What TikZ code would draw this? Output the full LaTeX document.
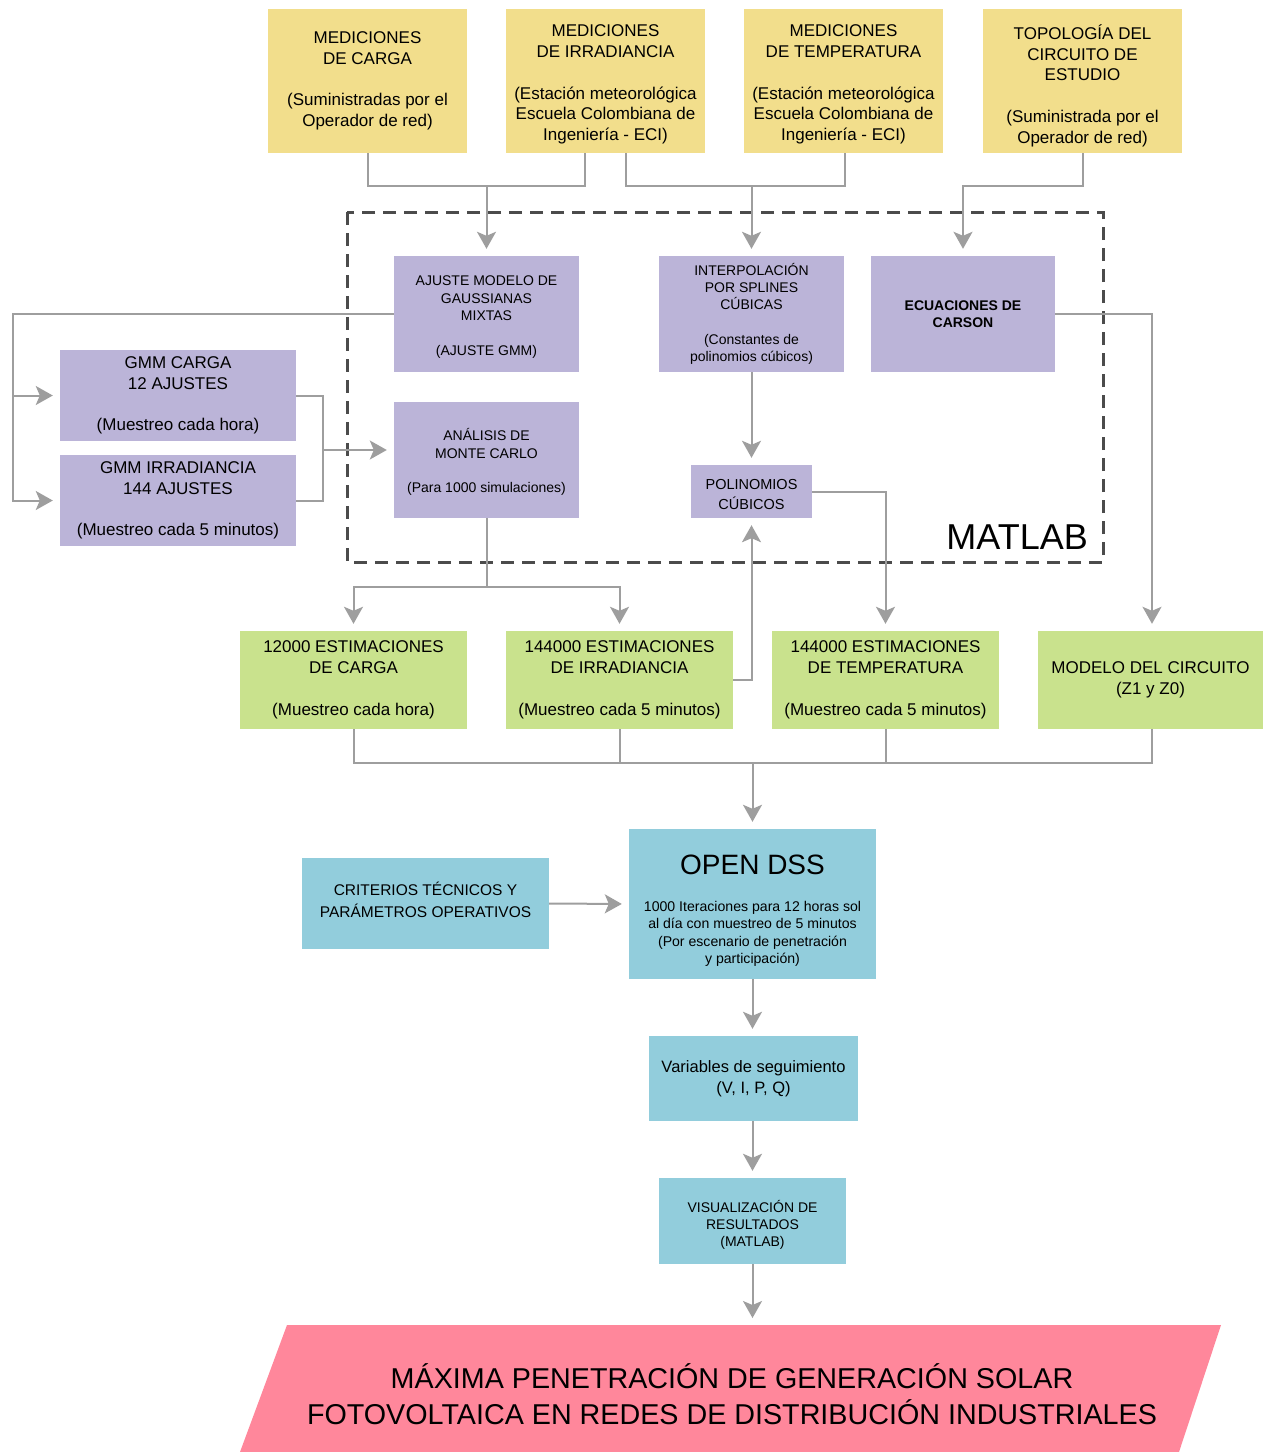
\documentclass[tikz,border=0pt]{standalone}
\usepackage{fontspec}
\setmainfont{Liberation Sans}
\usetikzlibrary{arrows.meta}
\definecolor{cyel}{RGB}{242,222,140}
\definecolor{cpur}{RGB}{187,180,216}
\definecolor{cgrn}{RGB}{201,226,141}
\definecolor{cteal}{RGB}{146,205,220}
\definecolor{cpink}{RGB}{255,135,155}
\definecolor{cline}{RGB}{158,158,158}
\definecolor{cdash}{RGB}{75,75,75}
\newcommand\tstr[1]{\rule{0pt}{#1pt}}
\tikzset{
  box/.style={draw=none, inner sep=0pt, align=center, text=black},
  yel/.style={box, fill=cyel, minimum width=199pt, minimum height=144pt, font=\fontsize{17}{20.8}\selectfont},
  pur/.style={box, fill=cpur, minimum width=185pt, minimum height=116pt, font=\fontsize{14}{17.3}\selectfont},
  purbig/.style={box, fill=cpur, minimum width=236pt, minimum height=91pt, font=\fontsize{17}{21}\selectfont},
  grn/.style={box, fill=cgrn, minimum width=227pt, minimum height=98pt, font=\fontsize{17}{20.8}\selectfont},
  teal/.style={box, fill=cteal},
  conn/.style={draw=cline, line width=2pt},
  arr/.style={conn, -{Stealth[length=17pt,width=19pt,inset=4pt]}, shorten >=7pt},
  dashbox/.style={draw=cdash, line width=3pt, dash pattern=on 13pt off 8pt}
}
\begin{document}
\begin{tikzpicture}[x=1pt,y=-1pt]
\useasboundingbox (0,0) rectangle (1263,1452);
% top inputs
\node[yel] (y1) at (367.5,81) {MEDICIONES\\DE CARGA\\[20.8pt](Suministradas por el\\Operador de red)};
\node[yel] (y2) at (605.5,81) {\tstr{18.8}MEDICIONES\\DE IRRADIANCIA\\[20.8pt](Estación meteorológica\\Escuela Colombiana de\\Ingeniería - ECI)};
\node[yel] (y3) at (843.5,81) {\tstr{18.8}MEDICIONES\\DE TEMPERATURA\\[20.8pt](Estación meteorológica\\Escuela Colombiana de\\Ingeniería - ECI)};
\node[yel] (y4) at (1082.5,81) {\tstr{24}\smash{TOPOLOGÍA DEL}\\CIRCUITO DE\\ESTUDIO\\[20.8pt](Suministrada por el\\Operador de red)};
% matlab box
\draw[dashbox] (347,212) rectangle (1103,562);
\node[anchor=base east, font=\fontsize{36}{40}\selectfont, inner sep=0pt] (matlab) at (1088,549) {MATLAB};
% purple
\node[pur] (ajuste) at (486.5,314) {\tstr{16}AJUSTE MODELO DE\\GAUSSIANAS\\MIXTAS\\[17.5pt](AJUSTE GMM)};
\node[pur] (interp) at (751.5,314) {INTERPOLACIÓN\\POR SPLINES\\CÚBICAS\\[17.5pt](Constantes de\\polinomios cúbicos)};
\node[pur, minimum width=184pt] (ecuac) at (963,314) {\bfseries ECUACIONES DE\\\bfseries CARSON};
\node[purbig] (gmmc) at (178,395.5) {GMM CARGA\\12 AJUSTES\\[20pt](Muestreo cada hora)};
\node[purbig] (gmmi) at (178,500.5) {GMM IRRADIANCIA\\144 AJUSTES\\[20pt](Muestreo cada 5 minutos)};
\node[pur] (anal) at (486.5,460) {\tstr{16.7}\smash{ANÁLISIS DE}\\MONTE CARLO\\[17.5pt](Para 1000 simulaciones)};
\node[pur, minimum width=121pt, minimum height=53pt, font=\fontsize{14.5}{20}\selectfont] (polin) at (751.5,491.5) {\tstr{16.4}POLINOMIOS\\CÚBICOS};
% green
\node[grn] (gc) at (353.5,680) {12000 ESTIMACIONES\\DE CARGA\\[20.8pt](Muestreo cada hora)};
\node[grn] (gi) at (619.5,680) {144000 ESTIMACIONES\\DE IRRADIANCIA\\[20.8pt](Muestreo cada 5 minutos)};
\node[grn] (gt) at (885.5,680) {144000 ESTIMACIONES\\DE TEMPERATURA\\[20.8pt](Muestreo cada 5 minutos)};
\node[grn, minimum width=225pt] (gm) at (1150.5,680) {MODELO DEL CIRCUITO\\(Z1 y Z0)};
% teal
\node[teal, minimum width=247pt, minimum height=91pt, font=\fontsize{15.5}{22}\selectfont] (crit) at (425.5,903.5) {CRITERIOS TÉCNICOS Y\\PARÁMETROS OPERATIVOS\rule[-8pt]{0pt}{8pt}};
\node[teal, minimum width=247pt, minimum height=150pt, font=\fontsize{14.1}{17.3}\selectfont] (dss) at (752.5,904) {{\fontsize{28}{30}\selectfont\tstr{32.3}\smash{OPEN DSS}}\\[20pt]1000 Iteraciones para 12 horas sol\\al día con muestreo de 5 minutos\\(Por escenario de penetración\\y participación)};
\node[teal, minimum width=209pt, minimum height=85pt, font=\fontsize{16.5}{21}\selectfont] (var) at (753.5,1078.5) {Variables de seguimiento\\(V, I, P, Q)};
\node[teal, minimum width=187pt, minimum height=86pt, font=\fontsize{14}{17}\selectfont] (vis) at (752.5,1221) {\tstr{20.7}\smash{VISUALIZACIÓN DE}\\RESULTADOS\\(MATLAB)};
% final
\fill[cpink] (287,1325) -- (1221,1325) -- (1179,1452) -- (240,1452) -- cycle;
\node[box, font=\fontsize{28.7}{36}\selectfont] (final) at (732,1394) {MÁXIMA PENETRACIÓN DE GENERACIÓN SOLAR\\FOTOVOLTAICA EN REDES DE DISTRIBUCIÓN INDUSTRIALES};
\coordinate (finaltop) at (752.5,1325);
% connectors top
\coordinate (j1) at (486.5,186);
\coordinate (j2) at (751.5,186);
\draw[conn] (y1.south) |- (j1) -| ([xshift=-20.5pt]y2.south);
\draw[arr] (j1) -- (ajuste.north);
\draw[conn] ([xshift=20.5pt]y2.south) |- (j2) -| ([xshift=1.5pt]y3.south);
\draw[arr] (j2) -- (interp.north);
\draw[arr] (y4.south) -- ++(0,33) -| (ecuac.north);
% gmm
\coordinate (lft) at (13,314);
\draw[arr] (ajuste.west) -- (lft) |- (gmmi.west);
\draw[arr] (lft |- gmmc.west) -- (gmmc.west);
\coordinate (jm) at (323,450);
\draw[conn] (gmmc.east) -- ++(27,0) |- (gmmi.east);
\draw[arr] (jm) -- ([yshift=10pt]anal.west);
% monte carlo outputs
\coordinate (j3) at (486.5,587);
\draw[conn] (anal.south) -- (j3);
\draw[arr] (j3) -| (gc.north);
\draw[arr] (j3) -| (gi.north);
\draw[arr] (interp.south) -- (polin.north);
\draw[arr] (polin.east) -| (gt.north);
\draw[arr] (gi.east) -| (polin.south);
\draw[arr] (ecuac.east) -| ([xshift=1.5pt]gm.north);
% bottom collector
\coordinate (jb) at (752.5,763);
\draw[conn] (gc.south) |- (jb) -| ([xshift=1.5pt]gm.south);
\draw[conn] (gi.south) -- (gi.south |- jb);
\draw[conn] (gt.south) -- (gt.south |- jb);
\draw[arr] (jb) -- (dss.north);
\draw[arr] (crit.east) -- (dss.west);
\draw[arr] (dss.south) -- (var.north -| dss.south);
\draw[arr] (var.south -| dss.south) -- (vis.north -| dss.south);
\draw[arr] (vis.south -| dss.south) -- (finaltop);
\end{tikzpicture}
\end{document}
